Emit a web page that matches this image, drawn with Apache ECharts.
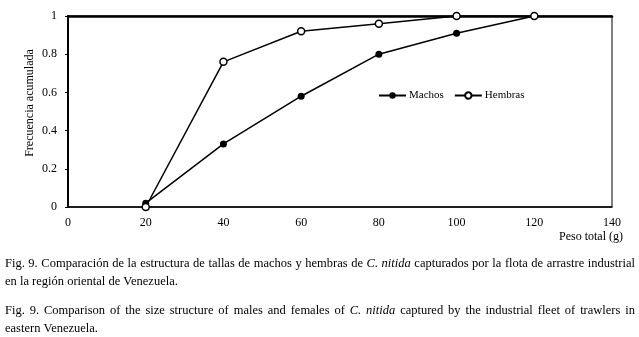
<!DOCTYPE html>
<html>
<head>
<meta charset="utf-8">
<script src="https://cdn.jsdelivr.net/npm/echarts@6/dist/echarts.min.js"></script>
<style>
  html, body { margin: 0; padding: 0; background: #fff; }
  #chart { width: 639px; height: 337px; }
</style>
</head>
<body>
<div id="chart"></div>
<script>
// peso total (g)
var pesos = [20, 40, 60, 80, 100, 120];
var machos = [0.02, 0.33, 0.58, 0.80, 0.91, 1.0];
var hembras = [0.0, 0.76, 0.92, 0.96, 1.0, 1.0];
var xTicks = [0, 140, 20];
var yTicks = [0, 1, 0.2];

// pie de figura (las palabras con * van en cursiva)
var pieEs1 = 'Fig. 9. Comparación de la estructura de tallas de machos y hembras de *C. *nitida capturados por la flota de arrastre industrial';
var pieEs2 = 'en la región oriental de Venezuela.';
var pieEn1 = 'Fig. 9. Comparison of the size structure of males and females of *C. *nitida captured by the industrial fleet of trawlers in';
var pieEn2 = 'eastern Venezuela.';

var font = 'Liberation Serif';
var capSize = 12.5;
var chart = echarts.init(document.getElementById('chart'));

function pares(vals) {
  return pesos.map(function (p, i) { return [p, vals[i]]; });
}

// justifica una linea ensanchando los espacios
var ctx = document.createElement('canvas').getContext('2d');
function justificar(linea, ancho) {
  var words = linea.split(' ');
  var total = 0;
  words.forEach(function (w) {
    var it = w.charAt(0) == '*';
    ctx.font = (it ? 'italic ' : '') + capSize + 'px "' + font + '"';
    total += ctx.measureText(it ? w.slice(1) : w).width;
  });
  var gap = (ancho - total) / (words.length - 1);
  var txt = words.map(function (w) {
    return w.charAt(0) == '*' ? '{i|' + w.slice(1) + '}' : '{n|' + w + '}';
  }).join('{s| }');
  return { text: txt, gap: gap };
}

function rich(gap) {
  return {
    n: { fontFamily: font, fontSize: capSize, color: '#000' },
    i: { fontFamily: font, fontSize: capSize, fontStyle: 'italic', color: '#000' },
    s: { fontFamily: font, fontSize: capSize, width: gap }
  };
}

var es1 = justificar(pieEs1, 630);
var en1 = justificar(pieEn1, 630);

chart.setOption({
  backgroundColor: '#fff',
  animation: false,
  textStyle: { fontFamily: font, color: '#000' },
  grid: {
    left: 68, right: 27, top: 16, height: 191,
    show: true, borderColor: '#000', borderWidth: 1
  },
  legend: {
    left: 378, top: 90, padding: 0,
    itemWidth: 27, itemHeight: 8, itemGap: 10,
    textStyle: { fontFamily: font, fontSize: 11, color: '#000', padding: [0, 0, 0, -2] },
    data: ['Machos', 'Hembras']
  },
  xAxis: [{
    type: 'value',
    min: xTicks[0], max: xTicks[1], interval: xTicks[2],
    splitLine: { show: false },
    axisLine: { lineStyle: { color: '#000', width: 1.5 } },
    axisTick: { show: false },
    axisLabel: { fontFamily: font, fontSize: 12, color: '#000', margin: 10 }
  }, {
    type: 'value', position: 'top',
    min: xTicks[0], max: xTicks[1],
    splitLine: { show: false },
    axisLine: { show: true, lineStyle: { color: '#000', width: 2.5 } },
    axisTick: { show: false },
    axisLabel: { show: false }
  }],
  yAxis: {
    type: 'value',
    min: yTicks[0], max: yTicks[1], interval: yTicks[2],
    splitLine: { show: false },
    axisLine: { show: true, lineStyle: { color: '#000', width: 2 } },
    axisTick: { show: true, length: 3, lineStyle: { color: '#000' } },
    axisLabel: { fontFamily: font, fontSize: 12, color: '#000', margin: 11 }
  },
  series: [{
    name: 'Machos', type: 'line', data: pares(machos),
    symbol: 'circle', symbolSize: 7,
    itemStyle: { color: '#000' },
    lineStyle: { color: '#000', width: 1.5 }
  }, {
    name: 'Hembras', type: 'line', data: pares(hembras),
    symbol: 'circle', symbolSize: 7,
    itemStyle: { color: '#fff', borderColor: '#000', borderWidth: 1.5 },
    lineStyle: { color: '#000', width: 1.5 }
  }],
  graphic: [{
    type: 'text', x: 30, y: 103, rotation: Math.PI / 2,
    style: {
      text: 'Frecuencia acumulada', font: '12px ' + font, fill: '#000',
      align: 'center', verticalAlign: 'middle'
    }
  }, {
    type: 'text', right: 16, top: 231,
    style: { text: 'Peso total (g)', font: '12px ' + font, fill: '#000' }
  }, {
    type: 'text', left: 5, top: 257,
    style: { text: es1.text, rich: rich(es1.gap) }
  }, {
    type: 'text', left: 5, top: 275,
    style: { text: pieEs2, font: capSize + 'px ' + font, fill: '#000' }
  }, {
    type: 'text', left: 5, top: 304,
    style: { text: en1.text, rich: rich(en1.gap) }
  }, {
    type: 'text', left: 5, top: 322,
    style: { text: pieEn2, font: capSize + 'px ' + font, fill: '#000' }
  }]
});
</script>
</body>
</html>
